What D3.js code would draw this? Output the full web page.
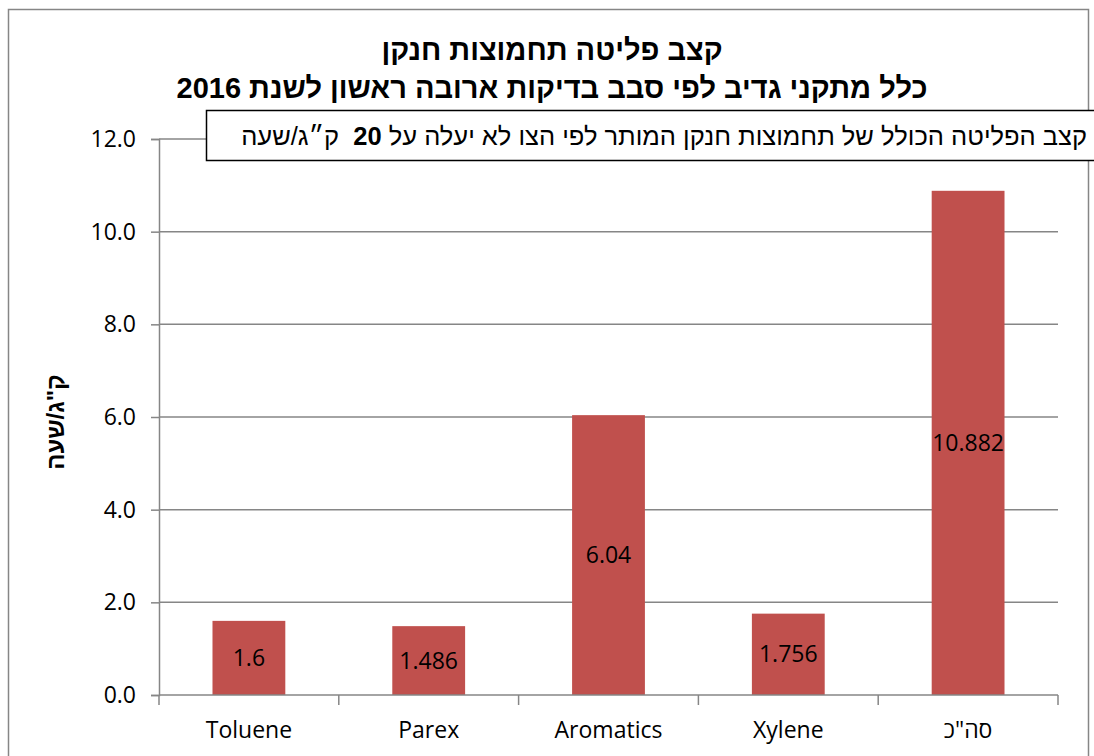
<!DOCTYPE html>
<html>
<head>
<meta charset="utf-8">
<script src="https://cdn.jsdelivr.net/npm/d3@7/dist/d3.min.js"></script>
<style>
  body { margin: 0; background: #fff; }
  svg { display: block; }
</style>
</head>
<body>
<svg id="chart" width="1094" height="756"></svg>
<script>
const categories = ["Toluene", "Parex", "Aromatics", "Xylene", "סה\"כ"];
const values = [1.6, 1.486, 6.04, 1.756, 10.882];
const valueLabels = ["1.6", "1.486", "6.04", "1.756", "10.882"];
const yTicks = [0, 2, 4, 6, 8, 10, 12];
const titleLines = ["קצב פליטה תחמוצות חנקן", "כלל מתקני גדיב לפי סבב בדיקות ארובה ראשון לשנת 2016"];
const yTitle = "ק\"ג/שעה";

const svg = d3.select("#chart");
const margin = { top: 139, right: 36, bottom: 61, left: 159 };
const width = 1094, height = 756;
const plotW = width - margin.left - margin.right;
const plotH = height - margin.top - margin.bottom;
const font = "'Open Sans', Lato, sans-serif";
const gridColor = "#868686";

// outer chart border
svg.append("rect")
  .attr("x", 8.5).attr("y", 9.5)
  .attr("width", 1080).attr("height", 760)
  .attr("fill", "none").attr("stroke", gridColor).attr("stroke-width", 1.5);

const x = d3.scaleBand().domain(categories).range([margin.left, margin.left + plotW]).paddingInner(0.595).paddingOuter(0.2975);
const xTicks = d3.scaleBand().domain(categories).range([margin.left, margin.left + plotW]);
const y = d3.scaleLinear().domain([0, 12]).range([margin.top + plotH, margin.top]);

// gridlines
svg.append("g")
  .selectAll("line").data(yTicks.filter(d => d > 0)).join("line")
  .attr("x1", margin.left).attr("x2", margin.left + plotW)
  .attr("y1", d => y(d)).attr("y2", d => y(d))
  .attr("stroke", gridColor).attr("stroke-width", 1.5);

// y axis
const yAxis = svg.append("g")
  .attr("transform", `translate(${margin.left},0)`)
  .call(d3.axisLeft(y).tickValues(yTicks).tickFormat(d3.format(".1f")).tickSize(8).tickPadding(15));
yAxis.select(".domain").attr("stroke", gridColor).attr("stroke-width", 1.5);
yAxis.selectAll(".tick line").attr("stroke", gridColor).attr("stroke-width", 1.5);
yAxis.selectAll("text").attr("font-family", font).attr("font-size", 23).attr("fill", "#000");

// bars
svg.append("g")
  .selectAll("rect").data(values).join("rect")
  .attr("x", (d, i) => x(categories[i]))
  .attr("y", d => y(d))
  .attr("width", x.bandwidth())
  .attr("height", d => y(0) - y(d))
  .attr("fill", "#C0504D");

// value labels
svg.append("g")
  .selectAll("text").data(values).join("text")
  .attr("x", (d, i) => x(categories[i]) + x.bandwidth() / 2)
  .attr("y", d => (y(d) + y(0)) / 2)
  .attr("dy", "0.35em")
  .attr("text-anchor", "middle")
  .attr("font-family", font).attr("font-size", 23).attr("fill", "#000")
  .text((d, i) => valueLabels[i]);

// x axis
const xAxisG = svg.append("g").attr("transform", `translate(0,${y(0)})`);
xAxisG.append("line")
  .attr("x1", margin.left).attr("x2", margin.left + plotW)
  .attr("stroke", gridColor).attr("stroke-width", 1.5);
xAxisG.selectAll(".tk").data(categories.concat([null])).join("line")
  .attr("x1", (d, i) => margin.left + i * xTicks.bandwidth())
  .attr("x2", (d, i) => margin.left + i * xTicks.bandwidth())
  .attr("y1", 0).attr("y2", 10)
  .attr("stroke", gridColor).attr("stroke-width", 1.5);
xAxisG.selectAll("text").data(categories).join("text")
  .attr("x", d => xTicks(d) + xTicks.bandwidth() / 2)
  .attr("y", 43)
  .attr("text-anchor", "middle")
  .attr("font-family", font).attr("font-size", 23).attr("fill", "#000")
  .text(d => d);

// title
svg.append("g").selectAll("text").data(titleLines).join("text")
  .attr("x", 552).attr("y", (d, i) => 60 + i * 38)
  .attr("text-anchor", "middle")
  .attr("direction", "rtl")
  .attr("font-family", "'Liberation Sans', Arial, sans-serif")
  .attr("font-weight", "bold").attr("font-size", 29).attr("fill", "#000")
  .text(d => d);

// y axis title
svg.append("text")
  .attr("transform", "translate(64,422) rotate(-90)")
  .attr("text-anchor", "middle")
  .attr("direction", "rtl")
  .attr("font-family", "'Liberation Sans', Arial, sans-serif")
  .attr("font-weight", "bold").attr("font-size", 24).attr("fill", "#000")
  .text(yTitle);

// annotation box
svg.append("rect")
  .attr("x", 206.5).attr("y", 110.5).attr("width", 900).attr("height", 50)
  .attr("fill", "#fff").attr("stroke", "#000").attr("stroke-width", 1.5);
const note = svg.append("text")
  .attr("x", 1087).attr("y", 145)
  .attr("text-anchor", "start")
  .attr("direction", "rtl")
  .attr("font-family", "'Liberation Sans', Arial, sans-serif")
  .attr("font-size", 25.5).attr("fill", "#000");
note.append("tspan").text("קצב הפליטה הכולל של תחמוצות חנקן המותר לפי הצו לא יעלה על ");
note.append("tspan").attr("font-weight", "bold").text("20");
note.append("tspan").attr("xml:space", "preserve").text("\u00a0\u00a0ק״ג/שעה");
</script>
</body>
</html>
